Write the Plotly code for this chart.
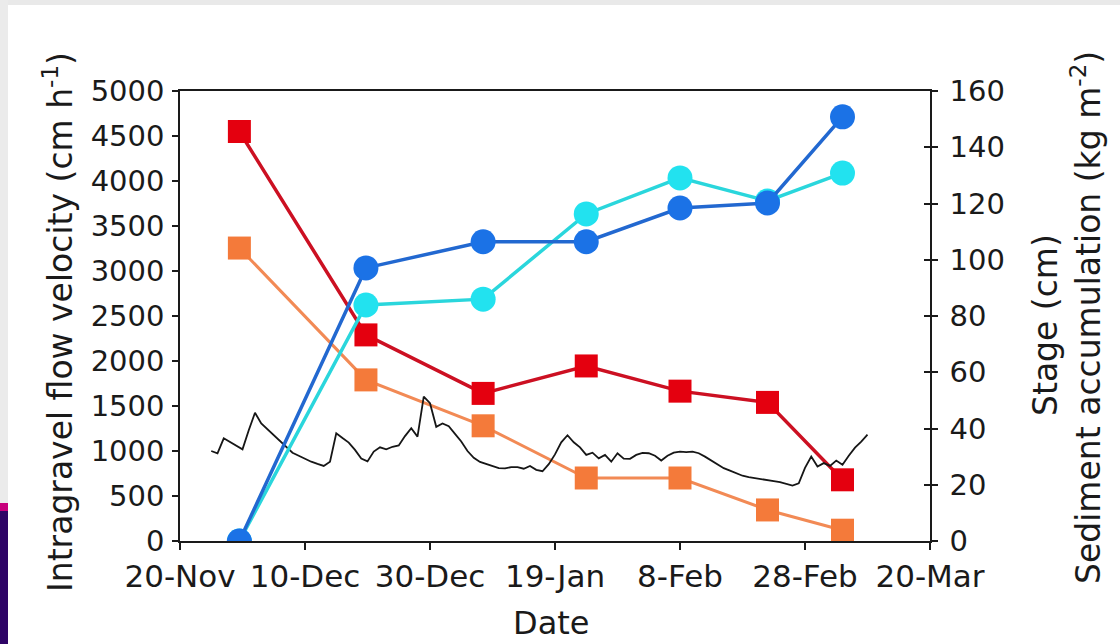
import pandas as pd
import plotly.graph_objects as go

# ---- data -----------------------------------------------------------------
# Sampling dates of the redd measurements
sample_dates = ["1996-11-29 12:00", "1996-12-19 18:00", "1997-01-07 12:00",
                "1997-01-24", "1997-02-08", "1997-02-22", "1997-03-06"]

# Intragravel flow velocity (cm h-1), left axis
velocity_red = [4550, 2290, 1640, 1945, 1665, 1540, 680]
velocity_orange = [3255, 1790, 1280, 700, 700, 345, 120]

# Sediment accumulation (kg m-2), right axis
sediment_dark = [0, 97.1, 106.4, 106.4, 118.4, 120.2, 150.8]
sediment_cyan = [0, 83.9, 86.0, 116.3, 129.1, 120.9, 130.8]

# Daily river stage (cm), right axis, starting 25 Nov
stage_start = "1996-11-25"
stage_cm = [
    32.0, 31.2, 36.5, 35.3, 34.0, 32.6, 39.4, 45.6, 41.8, 39.7,
    37.4, 35.3, 33.2, 31.4, 30.3, 29.1, 28.2, 27.4, 26.7, 28.2,
    38.3, 36.6, 35.0, 32.4, 29.3, 28.3, 31.8, 33.3, 32.6, 33.5,
    34.0, 37.3, 40.1, 37.1, 51.3, 49.0, 40.6, 41.8, 40.8, 38.1,
    35.4, 32.0, 29.6, 28.1, 27.3, 26.6, 25.9, 25.8, 26.3, 26.3,
    25.7, 26.7, 25.3, 24.8, 27.3, 30.8, 35.1, 37.6, 35.1, 33.3,
    30.6, 31.4, 29.4, 30.6, 28.2, 31.2, 29.3, 29.2, 30.6, 31.3,
    31.2, 30.3, 28.6, 30.3, 31.4, 31.8, 31.6, 31.8, 31.2, 30.0,
    28.6, 27.3, 25.9, 25.0, 24.1, 23.2, 22.7, 22.4, 22.0, 21.6,
    21.3, 20.9, 20.3, 19.7, 20.5, 26.0, 30.0, 26.5, 27.7, 26.7,
    28.6, 27.1, 30.3, 33.2, 35.3, 37.8,
]

tick_dates = ["1996-11-20", "1996-12-10", "1996-12-30", "1997-01-19",
              "1997-02-08", "1997-02-28", "1997-03-20"]
tick_labels = ["20-Nov", "10-Dec", "30-Dec", "19-Jan", "8-Feb", "28-Feb", "20-Mar"]
left_ticks = list(range(0, 5001, 500))
right_ticks = list(range(0, 161, 20))

stage_dates = pd.date_range(stage_start, periods=len(stage_cm), freq="D")

FONT = "DejaVu Sans"
INK = "#1a1a1a"

fig = go.Figure()

fig.add_trace(go.Scatter(
    x=stage_dates, y=stage_cm, yaxis="y2", mode="lines",
    line=dict(color="#161616", width=1.8), name="Stage"))

fig.add_trace(go.Scatter(
    x=sample_dates, y=velocity_orange, mode="lines+markers",
    line=dict(color="#f28a55", width=3),
    marker=dict(symbol="square", size=23, color="#f47a3a", line=dict(width=0)),
    name="Velocity B"))

fig.add_trace(go.Scatter(
    x=sample_dates, y=velocity_red, mode="lines+markers",
    line=dict(color="#cc1022", width=3.5),
    marker=dict(symbol="square", size=23, color="#e4000f", line=dict(width=0)),
    name="Velocity A"))

fig.add_trace(go.Scatter(
    x=sample_dates, y=sediment_cyan, yaxis="y2", mode="lines+markers",
    line=dict(color="#2ad6dc", width=3.5),
    marker=dict(symbol="circle", size=25, color="#22e2ef", line=dict(width=0)),
    name="Sediment B"))

fig.add_trace(go.Scatter(
    x=sample_dates, y=sediment_dark, yaxis="y2", mode="lines+markers",
    line=dict(color="#2268d0", width=3.5),
    marker=dict(symbol="circle", size=25, color="#1b72e6", line=dict(width=0)),
    name="Sediment A"))

# empty trace so the inner half of the right-hand ticks is drawn
fig.add_trace(go.Scatter(x=[], y=[], yaxis="y3", showlegend=False))

# plot-area edges in pixels, used to place the decoration and titles
L, R, T, B = 180, 930, 91, 541
W, H = 1120, 644


def px(x):
    return (x - L) / (R - L)


def py(y):
    return (B - y) / (B - T)


shapes = [
    dict(type="rect", xref="paper", yref="paper", x0=px(0), x1=px(W), y0=py(5), y1=py(-2),
         fillcolor="#e9e9e9", line=dict(width=0), layer="below"),
    dict(type="rect", xref="paper", yref="paper", x0=px(-2), x1=px(8), y0=py(503), y1=py(-2),
         fillcolor="#ebebeb", line=dict(width=0), layer="below"),
    dict(type="rect", xref="paper", yref="paper", x0=px(-2), x1=px(8), y0=py(511), y1=py(503),
         fillcolor="#c8007c", line=dict(width=0), layer="below"),
    dict(type="rect", xref="paper", yref="paper", x0=px(-2), x1=px(8), y0=py(H + 2), y1=py(511),
         fillcolor="#2e0466", line=dict(width=0), layer="below"),
]

title_font = dict(family=FONT, size=33, color=INK)
annotations = [
    dict(text="Intragravel flow velocity (cm h<sup>-1</sup>)", textangle=-90,
         xref="paper", yref="paper", x=px(58), y=py(322), showarrow=False,
         xanchor="center", yanchor="middle", font=title_font),
    dict(text="Stage (cm)", textangle=-90,
         xref="paper", yref="paper", x=px(1045), y=py(325), showarrow=False,
         xanchor="center", yanchor="middle", font=title_font),
    dict(text="Sediment accumulation (kg m<sup>-2</sup>)", textangle=-90,
         xref="paper", yref="paper", x=px(1086), y=py(318), showarrow=False,
         xanchor="center", yanchor="middle", font=title_font),
    dict(text="Date",
         xref="paper", yref="paper", x=px(551), y=py(643), showarrow=False,
         xanchor="center", yanchor="bottom", borderpad=0,
         font=dict(family=FONT, size=32, color=INK)),
]

axis_common = dict(showgrid=False, zeroline=False, showline=True,
                   linecolor=INK, linewidth=1.5, tickcolor=INK, tickwidth=1.5)

fig.update_layout(
    width=W, height=H,
    margin=dict(l=L, r=W - R, t=T, b=H - B, pad=0),
    paper_bgcolor="white", plot_bgcolor="white",
    showlegend=False,
    font=dict(family=FONT, color=INK),
    xaxis=dict(type="date", range=[tick_dates[0], tick_dates[-1]],
               tickmode="array", tickvals=tick_dates, ticktext=tick_labels,
               ticks="outside", ticklen=7, mirror=True,
               tickfont=dict(family=FONT, size=31, color=INK), **axis_common),
    yaxis=dict(range=[0, 5000], tickmode="array", tickvals=left_ticks,
               ticks="outside", ticklen=6, ticklabelstandoff=2,
               tickfont=dict(family=FONT, size=29, color=INK), **axis_common),
    yaxis2=dict(range=[0, 160], overlaying="y", side="right", tickmode="array",
                tickvals=right_ticks, ticks="outside", ticklen=6, ticklabelstandoff=6,
                tickfont=dict(family=FONT, size=29, color=INK), **axis_common),
    yaxis3=dict(range=[0, 160], overlaying="y", side="right", tickmode="array",
                tickvals=right_ticks, ticks="inside", ticklen=6, showticklabels=False,
                showgrid=False, zeroline=False, showline=False,
                tickcolor=INK, tickwidth=1.5),
    shapes=shapes,
    annotations=annotations,
)

fig.write_html("out.html")
